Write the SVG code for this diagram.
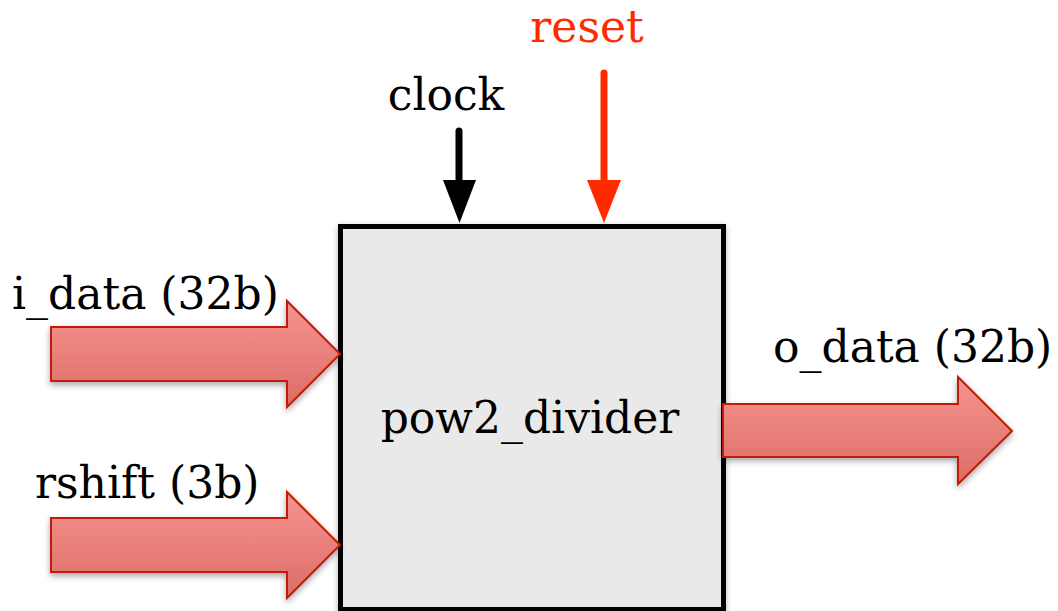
<svg xmlns="http://www.w3.org/2000/svg" width="1058" height="611" viewBox="0 0 1058 611">
  <style>
    .lbl { font-family: "DejaVu Serif", "Liberation Serif", serif; font-size: 44px; fill: #000; }
    .rst { fill: #ff2a00; }
    .bus { fill: url(#busFill); stroke: #c01e08; stroke-width: 2; stroke-linejoin: miter; filter: url(#soft); }
    .block { fill: #e9e9e9; stroke: #000; stroke-width: 5; }
  </style>
  <defs>
    <linearGradient id="busFill" x1="0" y1="0" x2="0" y2="1">
      <stop offset="0" stop-color="#f69490"/>
      <stop offset="1" stop-color="#dc6d66"/>
    </linearGradient>
    <filter id="soft" x="-10%" y="-20%" width="120%" height="150%">
      <feDropShadow dx="0" dy="3" stdDeviation="3" flood-color="#000" flood-opacity="0.35"/>
    </filter>
    <filter id="boxShadow" x="-10%" y="-10%" width="120%" height="120%">
      <feDropShadow dx="0" dy="2" stdDeviation="3" flood-color="#000" flood-opacity="0.3"/>
    </filter>
  </defs>

  <rect width="1058" height="611" fill="#fff"/>

  <!-- divider block -->
  <g id="pow2_divider">
    <rect class="block" x="340.5" y="226.5" width="383" height="383" filter="url(#boxShadow)"/>
    <text class="lbl" x="530" y="433" text-anchor="middle" font-size="45.5">pow2_divider</text>
  </g>

  <!-- control inputs -->
  <g id="clock">
    <text class="lbl" x="446" y="110" text-anchor="middle">clock</text>
  </g>
  <g id="reset">
    <text class="lbl rst" x="587" y="42" text-anchor="middle" font-size="42.5">reset</text>
  </g>

  <!-- bus ports -->
  <g id="i_data">
    <text class="lbl" x="12" y="309">i_data (32b)</text>
  </g>
  <g id="rshift">
    <text class="lbl" x="35" y="498">rshift (3b)</text>
  </g>
  <g id="o_data">
    <text class="lbl" x="773" y="362">o_data (32b)</text>
  </g>

  <g id="connectors">
    <!-- clock -->
    <line x1="459" y1="131" x2="459" y2="184" stroke="#000" stroke-width="7" stroke-linecap="round"/>
    <polygon points="443,180 476,180 459.5,223" fill="#000"/>
    <!-- reset -->
    <line x1="604" y1="73" x2="604" y2="184" stroke="#ff2a00" stroke-width="7" stroke-linecap="round"/>
    <polygon points="587,180 621,180 604,223" fill="#ff2a00"/>
    <!-- i_data bus -->
    <polygon class="bus" points="51,327 287,327 287,301 340,354 287,407 287,381 51,381"/>
    <!-- rshift bus -->
    <polygon class="bus" points="51,518 287,518 287,492 340,545 287,598 287,572 51,572"/>
    <!-- o_data bus -->
    <polygon class="bus" points="723,404 958,404 958,377 1012,431 958,484 958,457 723,457"/>
  </g>
</svg>
